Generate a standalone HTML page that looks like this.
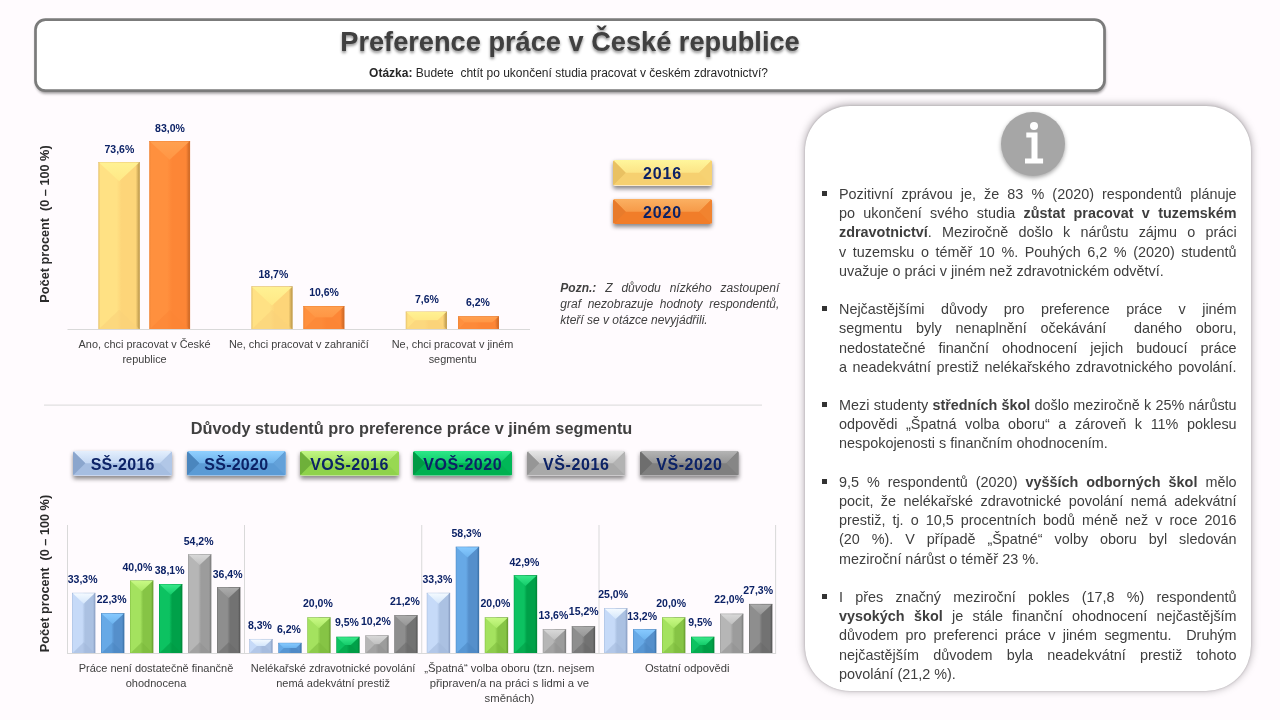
<!DOCTYPE html>
<html lang="cs"><head><meta charset="utf-8"><title>Preference práce v České republice</title>
<style>
html,body{margin:0;padding:0}
body{width:1280px;height:720px;position:relative;overflow:hidden;background:#fffbfe;font-family:"Liberation Sans", sans-serif;color:#404040}
.titlebox{position:absolute;left:34px;top:18px;width:1066px;height:67px;border:3px solid #7c7c7c;border-radius:11px;background:#fff;box-shadow:1px 2.5px 3px rgba(0,0,0,.38)}
.title{position:absolute;left:34px;top:22px;width:1072px;text-align:center;font-weight:bold;font-size:27.2px;line-height:40px;height:40px;color:#404040;text-shadow:0 1.5px 3px rgba(0,0,0,.45);white-space:nowrap}
.subtitle{position:absolute;left:34px;top:65.2px;width:1069px;text-align:center;font-size:12px;line-height:16px;color:#262626;white-space:pre}
.btn{position:absolute;border-radius:2.5px;overflow:hidden;box-shadow:0 2.5px 4px rgba(0,0,0,.45);text-align:center;}
.btn span{position:absolute;left:0;right:0;top:0;bottom:0;display:flex;align-items:center;justify-content:center;font-weight:bold;color:#0c2266;padding-top:1px}
.panel{position:absolute;left:805px;top:105.6px;width:446.3px;height:585.4px;border-radius:45px;background:#fff;box-shadow:0 -1px 9px rgba(10,5,10,.37),0 0 2px rgba(10,5,10,.18)}
.icon{position:absolute;left:1001px;top:111.5px;width:64px;height:64px;border-radius:50%;background:#a6a6a6;box-shadow:0 2px 4px rgba(0,0,0,.35)}
.body{position:absolute;left:839px;top:185.0px;width:397.6px;font-size:14.4px;line-height:19.2px;color:#3e3e3e}
.para{position:relative;margin-bottom:19.2px}
.ln{height:19.2px;text-align:justify;text-align-last:justify;white-space:nowrap;overflow:visible}
.ln.last{text-align:left;text-align-last:left}
.bul{position:absolute;left:-16.9px;top:6.0px;width:5px;height:5px;background:#333}
.note{position:absolute;left:560.3px;top:281.2px;width:219px;font-size:12px;line-height:15.75px;font-style:italic;color:#404040}
.nl{height:15.75px;text-align:justify;text-align-last:justify;white-space:nowrap}
.nl.last{text-align:left;text-align-last:left}
</style></head><body>
<svg width="1280" height="110" viewBox="0 0 1280 110" style="position:absolute;left:0;top:0"><defs><filter id="tsh" x="-2%" y="-20%" width="104%" height="150%"><feGaussianBlur stdDeviation="1.7"/></filter></defs><rect x="35.6" y="21.6" width="1070" height="72" rx="11" fill="#000" opacity=".42" filter="url(#tsh)"/><rect x="35.5" y="19.6" width="1069" height="71" rx="10" fill="#fff" stroke="#7b7b7b" stroke-width="2.7"/></svg>
<div class="title">Preference práce v České republice</div>
<div class="subtitle"><b>Otázka:</b> Budete  chtít po ukončení studia pracovat v českém zdravotnictví?</div>
<div class="panel"></div>
<svg width="1280" height="720" viewBox="0 0 1280 720" style="position:absolute;left:0;top:0" font-family='"Liberation Sans", sans-serif'><defs><linearGradient id="ty" x1="0" y1="0" x2="0" y2="1"><stop offset="0" stop-color="#fff193"/><stop offset="1" stop-color="#ffe886"/></linearGradient><linearGradient id="hy" x1="0" y1="0" x2="1" y2="0"><stop offset="0" stop-color="#e6c26b"/><stop offset=".05" stop-color="#ffe184"/><stop offset=".44" stop-color="#ffe184"/><stop offset=".56" stop-color="#fdd579"/><stop offset=".9" stop-color="#fdd579"/><stop offset=".97" stop-color="#c9a454"/><stop offset="1" stop-color="#c9a454"/></linearGradient><linearGradient id="to" x1="0" y1="0" x2="0" y2="1"><stop offset="0" stop-color="#ffa050"/><stop offset="1" stop-color="#ff9644"/></linearGradient><linearGradient id="ho" x1="0" y1="0" x2="1" y2="0"><stop offset="0" stop-color="#f08636"/><stop offset=".05" stop-color="#ff903e"/><stop offset=".44" stop-color="#ff903e"/><stop offset=".56" stop-color="#fd8636"/><stop offset=".9" stop-color="#fd8636"/><stop offset=".97" stop-color="#d56d28"/><stop offset="1" stop-color="#d56d28"/></linearGradient><linearGradient id="tb1" x1="0" y1="0" x2="0" y2="1"><stop offset="0" stop-color="#f4faff"/><stop offset="1" stop-color="#d4e6fb"/></linearGradient><linearGradient id="hb1" x1="0" y1="0" x2="1" y2="0"><stop offset="0" stop-color="#a9bedf"/><stop offset=".05" stop-color="#c6daf8"/><stop offset=".44" stop-color="#c6daf8"/><stop offset=".56" stop-color="#abc1e2"/><stop offset=".9" stop-color="#abc1e2"/><stop offset=".97" stop-color="#8fa4c8"/><stop offset="1" stop-color="#8fa4c8"/></linearGradient><linearGradient id="tb2" x1="0" y1="0" x2="0" y2="1"><stop offset="0" stop-color="#86c9ff"/><stop offset="1" stop-color="#6db3ee"/></linearGradient><linearGradient id="hb2" x1="0" y1="0" x2="1" y2="0"><stop offset="0" stop-color="#4f8cc8"/><stop offset=".05" stop-color="#67a9e6"/><stop offset=".44" stop-color="#67a9e6"/><stop offset=".56" stop-color="#558fcb"/><stop offset=".9" stop-color="#558fcb"/><stop offset=".97" stop-color="#3f76ad"/><stop offset="1" stop-color="#3f76ad"/></linearGradient><linearGradient id="tg1" x1="0" y1="0" x2="0" y2="1"><stop offset="0" stop-color="#c8f984"/><stop offset="1" stop-color="#abe866"/></linearGradient><linearGradient id="hg1" x1="0" y1="0" x2="1" y2="0"><stop offset="0" stop-color="#84c044"/><stop offset=".05" stop-color="#a4e25f"/><stop offset=".44" stop-color="#a4e25f"/><stop offset=".56" stop-color="#86c445"/><stop offset=".9" stop-color="#86c445"/><stop offset=".97" stop-color="#6ba232"/><stop offset="1" stop-color="#6ba232"/></linearGradient><linearGradient id="tg2" x1="0" y1="0" x2="0" y2="1"><stop offset="0" stop-color="#38e88a"/><stop offset="1" stop-color="#14cc6a"/></linearGradient><linearGradient id="hg2" x1="0" y1="0" x2="1" y2="0"><stop offset="0" stop-color="#00a44b"/><stop offset=".05" stop-color="#0cc261"/><stop offset=".44" stop-color="#0cc261"/><stop offset=".56" stop-color="#00a149"/><stop offset=".9" stop-color="#00a149"/><stop offset=".97" stop-color="#008a3a"/><stop offset="1" stop-color="#008a3a"/></linearGradient><linearGradient id="ts1" x1="0" y1="0" x2="0" y2="1"><stop offset="0" stop-color="#d8d8d8"/><stop offset="1" stop-color="#c0c0c0"/></linearGradient><linearGradient id="hs1" x1="0" y1="0" x2="1" y2="0"><stop offset="0" stop-color="#9a9a9a"/><stop offset=".05" stop-color="#b6b6b6"/><stop offset=".44" stop-color="#b6b6b6"/><stop offset=".56" stop-color="#9c9c9c"/><stop offset=".9" stop-color="#9c9c9c"/><stop offset=".97" stop-color="#808080"/><stop offset="1" stop-color="#808080"/></linearGradient><linearGradient id="ts2" x1="0" y1="0" x2="0" y2="1"><stop offset="0" stop-color="#acacac"/><stop offset="1" stop-color="#969696"/></linearGradient><linearGradient id="hs2" x1="0" y1="0" x2="1" y2="0"><stop offset="0" stop-color="#707070"/><stop offset=".05" stop-color="#8e8e8e"/><stop offset=".44" stop-color="#8e8e8e"/><stop offset=".56" stop-color="#727272"/><stop offset=".9" stop-color="#727272"/><stop offset=".97" stop-color="#5a5a5a"/><stop offset="1" stop-color="#5a5a5a"/></linearGradient></defs><rect x="67.5" y="329.0" width="462.5" height="1" fill="#d9d9d9"/><rect x="98.3" y="162.1" width="41.6" height="166.9" fill="url(#hy)"/><rect x="98.3" y="162.1" width="41.6" height=".6" fill="#c9a454" opacity=".55"/><polygon points="99,162.6 139.2,162.6 119.1,181.24 119.1,181.24" fill="url(#ty)"/><polygon points="99,329 139.2,329 119.1,309.86 119.1,309.86" fill="#f9d27a" opacity=".55"/><text x="119.4" y="153" font-size="10.5" font-weight="bold" fill="#0c2266" text-anchor="middle">73,6%</text><rect x="149.2" y="141" width="40.9" height="188" fill="url(#ho)"/><rect x="149.2" y="141" width="40.9" height=".6" fill="#d56d28" opacity=".55"/><polygon points="149.9,141.5 189.4,141.5 169.65,159.81 169.65,159.81" fill="url(#to)"/><polygon points="149.9,329 189.4,329 169.65,310.19 169.65,310.19" fill="#fb8534" opacity=".55"/><text x="169.95" y="131.8" font-size="10.5" font-weight="bold" fill="#0c2266" text-anchor="middle">83,0%</text><rect x="251.3" y="286.4" width="41.4" height="42.6" fill="url(#hy)"/><rect x="251.3" y="286.4" width="41.4" height=".6" fill="#c9a454" opacity=".55"/><polygon points="252,286.9 292,286.9 272,305.44 272,305.44" fill="url(#ty)"/><polygon points="252,329 292,329 272,309.96 272,309.96" fill="#f9d27a" opacity=".55"/><text x="273.4" y="278" font-size="10.5" font-weight="bold" fill="#0c2266" text-anchor="middle">18,7%</text><rect x="303.2" y="306" width="41.3" height="23" fill="url(#ho)"/><rect x="303.2" y="306" width="41.3" height=".6" fill="#d56d28" opacity=".55"/><rect x="315.7" y="317.5" width="16.3" height="0" fill="#ff903e"/><polygon points="303.9,306.5 343.8,306.5 332,317.5 315.7,317.5" fill="url(#to)"/><polygon points="303.9,329 343.8,329 332,317.5 315.7,317.5" fill="#fb8534" opacity=".55"/><text x="324.05" y="295.8" font-size="10.5" font-weight="bold" fill="#0c2266" text-anchor="middle">10,6%</text><rect x="405.7" y="311.6" width="41.3" height="17.4" fill="url(#hy)"/><rect x="405.7" y="311.6" width="41.3" height=".6" fill="#c9a454" opacity=".55"/><rect x="415.16" y="320.3" width="22.39" height="0" fill="#ffe184"/><polygon points="406.4,312.1 446.3,312.1 437.54,320.3 415.16,320.3" fill="url(#ty)"/><polygon points="406.4,329 446.3,329 437.54,320.3 415.16,320.3" fill="#f9d27a" opacity=".55"/><text x="426.95" y="303.3" font-size="10.5" font-weight="bold" fill="#0c2266" text-anchor="middle">7,6%</text><rect x="458" y="316.2" width="41" height="12.8" fill="url(#ho)"/><rect x="458" y="316.2" width="41" height=".6" fill="#d56d28" opacity=".55"/><rect x="464.96" y="322.6" width="27.09" height="0" fill="#ff903e"/><polygon points="458.7,316.7 498.3,316.7 492.04,322.6 464.96,322.6" fill="url(#to)"/><polygon points="458.7,329 498.3,329 492.04,322.6 464.96,322.6" fill="#fb8534" opacity=".55"/><text x="477.9" y="305.8" font-size="10.5" font-weight="bold" fill="#0c2266" text-anchor="middle">6,2%</text><text x="144.6" y="348" font-size="10.9" font-weight="normal" fill="#404040" text-anchor="middle">Ano, chci pracovat v České</text><text x="144.6" y="362.6" font-size="10.9" font-weight="normal" fill="#404040" text-anchor="middle">republice</text><text x="298.8" y="348" font-size="10.9" font-weight="normal" fill="#404040" text-anchor="middle">Ne, chci pracovat v zahraničí</text><text x="452.6" y="348" font-size="10.9" font-weight="normal" fill="#404040" text-anchor="middle">Ne, chci pracovat v jiném</text><text x="452.6" y="362.6" font-size="10.9" font-weight="normal" fill="#404040" text-anchor="middle">segmentu</text><text transform="translate(49 224) rotate(-90)" font-size="12.7" font-weight="bold" fill="#2b2b2b" text-anchor="middle" xml:space="preserve">Počet procent  (0 – 100 %)</text><rect x="44" y="404.6" width="718" height="1" fill="#d9d9d9"/><text x="411.5" y="433.7" font-size="16.3" font-weight="bold" fill="#404040" text-anchor="middle">Důvody studentů pro preference práce v jiném segmentu</text><rect x="67" y="525" width="1" height="129" fill="#d9d9d9"/><rect x="244" y="525" width="1" height="129" fill="#d9d9d9"/><rect x="421.25" y="525" width="1" height="129" fill="#d9d9d9"/><rect x="598.5" y="525" width="1" height="129" fill="#d9d9d9"/><rect x="775.1" y="525" width="1" height="129" fill="#d9d9d9"/><rect x="67.5" y="653.0" width="708.5" height="1" fill="#d9d9d9"/><rect x="72" y="592.86" width="23.4" height="60.14" fill="url(#hb1)"/><rect x="72" y="592.86" width="23.4" height=".6" fill="#8fa4c8" opacity=".55"/><polygon points="72.7,593.36 94.7,593.36 83.7,603.63 83.7,603.63" fill="url(#tb1)"/><polygon points="72.7,653 94.7,653 83.7,642.24 83.7,642.24" fill="#a3b8da" opacity=".55"/><text x="82.6" y="583.26" font-size="10.5" font-weight="bold" fill="#0c2266" text-anchor="middle">33,3%</text><rect x="101" y="613.16" width="23.4" height="39.84" fill="url(#hb2)"/><rect x="101" y="613.16" width="23.4" height=".6" fill="#3f76ad" opacity=".55"/><polygon points="101.7,613.66 123.7,613.66 112.7,623.92 112.7,623.92" fill="url(#tb2)"/><polygon points="101.7,653 123.7,653 112.7,642.24 112.7,642.24" fill="#4b87c2" opacity=".55"/><text x="111.6" y="602.56" font-size="10.5" font-weight="bold" fill="#0c2266" text-anchor="middle">22,3%</text><rect x="130" y="580.5" width="23.4" height="72.5" fill="url(#hg1)"/><rect x="130" y="580.5" width="23.4" height=".6" fill="#6ba232" opacity=".55"/><polygon points="130.7,581 152.7,581 141.7,591.26 141.7,591.26" fill="url(#tg1)"/><polygon points="130.7,653 152.7,653 141.7,642.24 141.7,642.24" fill="#7cba3d" opacity=".55"/><text x="137.4" y="570.9" font-size="10.5" font-weight="bold" fill="#0c2266" text-anchor="middle">40,0%</text><rect x="159" y="584.01" width="23.4" height="68.99" fill="url(#hg2)"/><rect x="159" y="584.01" width="23.4" height=".6" fill="#008a3a" opacity=".55"/><polygon points="159.7,584.51 181.7,584.51 170.7,594.77 170.7,594.77" fill="url(#tg2)"/><polygon points="159.7,653 181.7,653 170.7,642.24 170.7,642.24" fill="#009a43" opacity=".55"/><text x="169.6" y="574.41" font-size="10.5" font-weight="bold" fill="#0c2266" text-anchor="middle">38,1%</text><rect x="188" y="554.3" width="23.4" height="98.7" fill="url(#hs1)"/><rect x="188" y="554.3" width="23.4" height=".6" fill="#808080" opacity=".55"/><polygon points="188.7,554.8 210.7,554.8 199.7,565.06 199.7,565.06" fill="url(#ts1)"/><polygon points="188.7,653 210.7,653 199.7,642.24 199.7,642.24" fill="#929292" opacity=".55"/><text x="198.6" y="544.7" font-size="10.5" font-weight="bold" fill="#0c2266" text-anchor="middle">54,2%</text><rect x="217" y="587.14" width="23.4" height="65.86" fill="url(#hs2)"/><rect x="217" y="587.14" width="23.4" height=".6" fill="#5a5a5a" opacity=".55"/><polygon points="217.7,587.64 239.7,587.64 228.7,597.91 228.7,597.91" fill="url(#ts2)"/><polygon points="217.7,653 239.7,653 228.7,642.24 228.7,642.24" fill="#6a6a6a" opacity=".55"/><text x="227.6" y="577.54" font-size="10.5" font-weight="bold" fill="#0c2266" text-anchor="middle">36,4%</text><rect x="249.25" y="638.99" width="23.4" height="14.01" fill="url(#hb1)"/><rect x="249.25" y="638.99" width="23.4" height=".6" fill="#8fa4c8" opacity=".55"/><rect x="256.87" y="645.99" width="8.17" height="0" fill="#c6daf8"/><polygon points="249.95,639.49 271.95,639.49 265.03,645.99 256.87,645.99" fill="url(#tb1)"/><polygon points="249.95,653 271.95,653 265.03,645.99 256.87,645.99" fill="#a3b8da" opacity=".55"/><text x="259.85" y="629.39" font-size="10.5" font-weight="bold" fill="#0c2266" text-anchor="middle">8,3%</text><rect x="278.25" y="642.86" width="23.4" height="10.14" fill="url(#hb2)"/><rect x="278.25" y="642.86" width="23.4" height=".6" fill="#3f76ad" opacity=".55"/><rect x="283.76" y="647.93" width="12.38" height="0" fill="#67a9e6"/><polygon points="278.95,643.36 300.95,643.36 296.14,647.93 283.76,647.93" fill="url(#tb2)"/><polygon points="278.95,653 300.95,653 296.14,647.93 283.76,647.93" fill="#4b87c2" opacity=".55"/><text x="288.85" y="633.26" font-size="10.5" font-weight="bold" fill="#0c2266" text-anchor="middle">6,2%</text><rect x="307.25" y="617.4" width="23.4" height="35.6" fill="url(#hg1)"/><rect x="307.25" y="617.4" width="23.4" height=".6" fill="#6ba232" opacity=".55"/><polygon points="307.95,617.9 329.95,617.9 318.95,628.16 318.95,628.16" fill="url(#tg1)"/><polygon points="307.95,653 329.95,653 318.95,642.24 318.95,642.24" fill="#7cba3d" opacity=".55"/><text x="317.85" y="606.8" font-size="10.5" font-weight="bold" fill="#0c2266" text-anchor="middle">20,0%</text><rect x="336.25" y="636.77" width="23.4" height="16.23" fill="url(#hg2)"/><rect x="336.25" y="636.77" width="23.4" height=".6" fill="#008a3a" opacity=".55"/><rect x="345.07" y="644.89" width="5.76" height="0" fill="#0cc261"/><polygon points="336.95,637.27 358.95,637.27 350.83,644.89 345.07,644.89" fill="url(#tg2)"/><polygon points="336.95,653 358.95,653 350.83,644.89 345.07,644.89" fill="#009a43" opacity=".55"/><text x="346.85" y="626.17" font-size="10.5" font-weight="bold" fill="#0c2266" text-anchor="middle">9,5%</text><rect x="365.25" y="635.48" width="23.4" height="17.52" fill="url(#hs1)"/><rect x="365.25" y="635.48" width="23.4" height=".6" fill="#808080" opacity=".55"/><rect x="374.77" y="644.24" width="4.36" height="0" fill="#b6b6b6"/><polygon points="365.95,635.98 387.95,635.98 379.13,644.24 374.77,644.24" fill="url(#ts1)"/><polygon points="365.95,653 387.95,653 379.13,644.24 374.77,644.24" fill="#929292" opacity=".55"/><text x="375.85" y="624.88" font-size="10.5" font-weight="bold" fill="#0c2266" text-anchor="middle">10,2%</text><rect x="394.25" y="615.19" width="23.4" height="37.81" fill="url(#hs2)"/><rect x="394.25" y="615.19" width="23.4" height=".6" fill="#5a5a5a" opacity=".55"/><polygon points="394.95,615.69 416.95,615.69 405.95,625.95 405.95,625.95" fill="url(#ts2)"/><polygon points="394.95,653 416.95,653 405.95,642.24 405.95,642.24" fill="#6a6a6a" opacity=".55"/><text x="404.85" y="604.59" font-size="10.5" font-weight="bold" fill="#0c2266" text-anchor="middle">21,2%</text><rect x="426.75" y="592.86" width="23.4" height="60.14" fill="url(#hb1)"/><rect x="426.75" y="592.86" width="23.4" height=".6" fill="#8fa4c8" opacity=".55"/><polygon points="427.45,593.36 449.45,593.36 438.45,603.63 438.45,603.63" fill="url(#tb1)"/><polygon points="427.45,653 449.45,653 438.45,642.24 438.45,642.24" fill="#a3b8da" opacity=".55"/><text x="437.35" y="583.26" font-size="10.5" font-weight="bold" fill="#0c2266" text-anchor="middle">33,3%</text><rect x="455.75" y="546.74" width="23.4" height="106.26" fill="url(#hb2)"/><rect x="455.75" y="546.74" width="23.4" height=".6" fill="#3f76ad" opacity=".55"/><polygon points="456.45,547.24 478.45,547.24 467.45,557.5 467.45,557.5" fill="url(#tb2)"/><polygon points="456.45,653 478.45,653 467.45,642.24 467.45,642.24" fill="#4b87c2" opacity=".55"/><text x="466.35" y="537.14" font-size="10.5" font-weight="bold" fill="#0c2266" text-anchor="middle">58,3%</text><rect x="484.75" y="617.4" width="23.4" height="35.6" fill="url(#hg1)"/><rect x="484.75" y="617.4" width="23.4" height=".6" fill="#6ba232" opacity=".55"/><polygon points="485.45,617.9 507.45,617.9 496.45,628.16 496.45,628.16" fill="url(#tg1)"/><polygon points="485.45,653 507.45,653 496.45,642.24 496.45,642.24" fill="#7cba3d" opacity=".55"/><text x="495.35" y="606.8" font-size="10.5" font-weight="bold" fill="#0c2266" text-anchor="middle">20,0%</text><rect x="513.75" y="575.15" width="23.4" height="77.85" fill="url(#hg2)"/><rect x="513.75" y="575.15" width="23.4" height=".6" fill="#008a3a" opacity=".55"/><polygon points="514.45,575.65 536.45,575.65 525.45,585.91 525.45,585.91" fill="url(#tg2)"/><polygon points="514.45,653 536.45,653 525.45,642.24 525.45,642.24" fill="#009a43" opacity=".55"/><text x="524.35" y="565.55" font-size="10.5" font-weight="bold" fill="#0c2266" text-anchor="middle">42,9%</text><rect x="542.75" y="629.21" width="23.4" height="23.79" fill="url(#hs1)"/><rect x="542.75" y="629.21" width="23.4" height=".6" fill="#808080" opacity=".55"/><polygon points="543.45,629.71 565.45,629.71 554.45,639.97 554.45,639.97" fill="url(#ts1)"/><polygon points="543.45,653 565.45,653 554.45,642.24 554.45,642.24" fill="#929292" opacity=".55"/><text x="553.35" y="618.61" font-size="10.5" font-weight="bold" fill="#0c2266" text-anchor="middle">13,6%</text><rect x="571.75" y="626.26" width="23.4" height="26.74" fill="url(#hs2)"/><rect x="571.75" y="626.26" width="23.4" height=".6" fill="#5a5a5a" opacity=".55"/><polygon points="572.45,626.76 594.45,626.76 583.45,637.02 583.45,637.02" fill="url(#ts2)"/><polygon points="572.45,653 594.45,653 583.45,642.24 583.45,642.24" fill="#6a6a6a" opacity=".55"/><text x="583.75" y="615.06" font-size="10.5" font-weight="bold" fill="#0c2266" text-anchor="middle">15,2%</text><rect x="604" y="608.17" width="23.4" height="44.83" fill="url(#hb1)"/><rect x="604" y="608.17" width="23.4" height=".6" fill="#8fa4c8" opacity=".55"/><polygon points="604.7,608.67 626.7,608.67 615.7,618.94 615.7,618.94" fill="url(#tb1)"/><polygon points="604.7,653 626.7,653 615.7,642.24 615.7,642.24" fill="#a3b8da" opacity=".55"/><text x="613.1" y="597.57" font-size="10.5" font-weight="bold" fill="#0c2266" text-anchor="middle">25,0%</text><rect x="633" y="629.21" width="23.4" height="23.79" fill="url(#hb2)"/><rect x="633" y="629.21" width="23.4" height=".6" fill="#3f76ad" opacity=".55"/><polygon points="633.7,629.71 655.7,629.71 644.7,639.97 644.7,639.97" fill="url(#tb2)"/><polygon points="633.7,653 655.7,653 644.7,642.24 644.7,642.24" fill="#4b87c2" opacity=".55"/><text x="642.1" y="619.61" font-size="10.5" font-weight="bold" fill="#0c2266" text-anchor="middle">13,2%</text><rect x="662" y="617.4" width="23.4" height="35.6" fill="url(#hg1)"/><rect x="662" y="617.4" width="23.4" height=".6" fill="#6ba232" opacity=".55"/><polygon points="662.7,617.9 684.7,617.9 673.7,628.16 673.7,628.16" fill="url(#tg1)"/><polygon points="662.7,653 684.7,653 673.7,642.24 673.7,642.24" fill="#7cba3d" opacity=".55"/><text x="671.1" y="606.8" font-size="10.5" font-weight="bold" fill="#0c2266" text-anchor="middle">20,0%</text><rect x="691" y="636.77" width="23.4" height="16.23" fill="url(#hg2)"/><rect x="691" y="636.77" width="23.4" height=".6" fill="#008a3a" opacity=".55"/><rect x="699.82" y="644.89" width="5.76" height="0" fill="#0cc261"/><polygon points="691.7,637.27 713.7,637.27 705.58,644.89 699.82,644.89" fill="url(#tg2)"/><polygon points="691.7,653 713.7,653 705.58,644.89 699.82,644.89" fill="#009a43" opacity=".55"/><text x="700.1" y="626.17" font-size="10.5" font-weight="bold" fill="#0c2266" text-anchor="middle">9,5%</text><rect x="720" y="613.71" width="23.4" height="39.29" fill="url(#hs1)"/><rect x="720" y="613.71" width="23.4" height=".6" fill="#808080" opacity=".55"/><polygon points="720.7,614.21 742.7,614.21 731.7,624.47 731.7,624.47" fill="url(#ts1)"/><polygon points="720.7,653 742.7,653 731.7,642.24 731.7,642.24" fill="#929292" opacity=".55"/><text x="729.1" y="603.11" font-size="10.5" font-weight="bold" fill="#0c2266" text-anchor="middle">22,0%</text><rect x="749" y="603.93" width="23.4" height="49.07" fill="url(#hs2)"/><rect x="749" y="603.93" width="23.4" height=".6" fill="#5a5a5a" opacity=".55"/><polygon points="749.7,604.43 771.7,604.43 760.7,614.7 760.7,614.7" fill="url(#ts2)"/><polygon points="749.7,653 771.7,653 760.7,642.24 760.7,642.24" fill="#6a6a6a" opacity=".55"/><text x="758.1" y="593.93" font-size="10.5" font-weight="bold" fill="#0c2266" text-anchor="middle">27,3%</text><text x="156" y="671.7" font-size="11" font-weight="normal" fill="#404040" text-anchor="middle">Práce není dostatečně finančně</text><text x="156" y="686.7" font-size="11" font-weight="normal" fill="#404040" text-anchor="middle">ohodnocena</text><text x="333.1" y="671.7" font-size="11" font-weight="normal" fill="#404040" text-anchor="middle">Nelékařské zdravotnické povolání</text><text x="333.1" y="686.7" font-size="11" font-weight="normal" fill="#404040" text-anchor="middle">nemá adekvátní prestiž</text><text x="509.4" y="671.7" font-size="11.3" font-weight="normal" fill="#404040" text-anchor="middle">„Špatná“ volba oboru (tzn. nejsem</text><text x="509.4" y="686.7" font-size="11.3" font-weight="normal" fill="#404040" text-anchor="middle">připraven/a na práci s lidmi a ve</text><text x="509.4" y="701.7" font-size="11.3" font-weight="normal" fill="#404040" text-anchor="middle">směnách)</text><text x="687.2" y="671.7" font-size="11.2" font-weight="normal" fill="#404040" text-anchor="middle">Ostatní odpovědi</text><text transform="translate(48.8 573.5) rotate(-90)" font-size="12.7" font-weight="bold" fill="#2b2b2b" text-anchor="middle" xml:space="preserve">Počet procent  (0 – 100 %)</text><defs><filter id="sh" x="-20%" y="-20%" width="140%" height="150%"><feGaussianBlur stdDeviation="1.6"/></filter></defs></svg>
<div class="icon"></div><svg class="iconi" width="64" height="64" viewBox="0 0 64 64" style="position:absolute;left:1001px;top:111.5px"><circle cx="33" cy="14.1" r="4" fill="#fff"/><path d="M25.3 20.4H36.5V46.6H42.1V51.6H24V46.6H30.5V25.6H25.3Z" fill="#fff"/></svg>
<div class="btn" style="left:613px;top:160.2px;width:99px;height:25.4px;"><svg width="99" height="25.4" viewBox="0 0 99 25.4" style="position:absolute;left:0;top:0"><defs><linearGradient id="bg87000" x1="0" y1="0" x2="0" y2="1"><stop offset="0" stop-color="#fff69c"/><stop offset="1" stop-color="#fce486"/></linearGradient></defs><rect width="99" height="25.4" fill="#f6d070"/><polygon points="0,0 99,0 86.3,12.7 12.7,12.7" fill="url(#bg87000)"/><polygon points="0,0 12.7,12.7 0,25.4" fill="#e9c162"/><polygon points="99,0 86.3,12.7 99,25.4" fill="#f6d273"/></svg><span style="font-size:16px;letter-spacing:0.9px;padding-top:1.5px">2016</span></div><div class="btn" style="left:613px;top:199.1px;width:99px;height:25.4px;"><svg width="99" height="25.4" viewBox="0 0 99 25.4" style="position:absolute;left:0;top:0"><defs><linearGradient id="bg6372" x1="0" y1="0" x2="0" y2="1"><stop offset="0" stop-color="#fbb062"/><stop offset="1" stop-color="#f69a48"/></linearGradient></defs><rect width="99" height="25.4" fill="#f17d29"/><polygon points="0,0 99,0 86.3,12.7 12.7,12.7" fill="url(#bg6372)"/><polygon points="0,0 12.7,12.7 0,25.4" fill="#e87b2b"/><polygon points="99,0 86.3,12.7 99,25.4" fill="#f1832f"/></svg><span style="font-size:16px;letter-spacing:0.9px;padding-top:1.5px">2020</span></div><div class="btn" style="left:73px;top:451.3px;width:99.4px;height:24.6px;"><svg width="99.4" height="24.6" viewBox="0 0 99.4 24.6" style="position:absolute;left:0;top:0"><defs><linearGradient id="bg56359" x1="0" y1="0" x2="0" y2="1"><stop offset="0" stop-color="#e4effd"/><stop offset="1" stop-color="#c4d8f3"/></linearGradient></defs><rect width="99.4" height="24.6" fill="#a6bee1"/><polygon points="0,0 99.4,0 87.1,12.3 12.3,12.3" fill="url(#bg56359)"/><polygon points="0,0 12.3,12.3 0,24.6" fill="#8ba6cd"/><polygon points="99.4,0 87.1,12.3 99.4,24.6" fill="#b1c7e7"/></svg><span style="font-size:16px;letter-spacing:0.25px;padding-top:2.5px">SŠ-2016</span></div><div class="btn" style="left:187px;top:451.3px;width:98.6px;height:24.6px;"><svg width="98.6" height="24.6" viewBox="0 0 98.6 24.6" style="position:absolute;left:0;top:0"><defs><linearGradient id="bg84224" x1="0" y1="0" x2="0" y2="1"><stop offset="0" stop-color="#90d0ff"/><stop offset="1" stop-color="#6fb3eb"/></linearGradient></defs><rect width="98.6" height="24.6" fill="#5b9bd5"/><polygon points="0,0 98.6,0 86.3,12.3 12.3,12.3" fill="url(#bg84224)"/><polygon points="0,0 12.3,12.3 0,24.6" fill="#4a86be"/><polygon points="98.6,0 86.3,12.3 98.6,24.6" fill="#63a1d9"/></svg><span style="font-size:16px;letter-spacing:0.25px;padding-top:2.5px">SŠ-2020</span></div><div class="btn" style="left:300px;top:451.3px;width:99px;height:24.6px;"><svg width="99" height="24.6" viewBox="0 0 99 24.6" style="position:absolute;left:0;top:0"><defs><linearGradient id="bg15677" x1="0" y1="0" x2="0" y2="1"><stop offset="0" stop-color="#c2f684"/><stop offset="1" stop-color="#a0e05f"/></linearGradient></defs><rect width="99" height="24.6" fill="#8fd24b"/><polygon points="0,0 99,0 86.7,12.3 12.3,12.3" fill="url(#bg15677)"/><polygon points="0,0 12.3,12.3 0,24.6" fill="#6eb03a"/><polygon points="99,0 86.7,12.3 99,24.6" fill="#98d852"/></svg><span style="font-size:16px;letter-spacing:0.5px;padding-top:2.5px">VOŠ-2016</span></div><div class="btn" style="left:413px;top:451.3px;width:99.4px;height:24.6px;"><svg width="99.4" height="24.6" viewBox="0 0 99.4 24.6" style="position:absolute;left:0;top:0"><defs><linearGradient id="bg81833" x1="0" y1="0" x2="0" y2="1"><stop offset="0" stop-color="#2ce888"/><stop offset="1" stop-color="#0ecb69"/></linearGradient></defs><rect width="99.4" height="24.6" fill="#00b151"/><polygon points="0,0 99.4,0 87.1,12.3 12.3,12.3" fill="url(#bg81833)"/><polygon points="0,0 12.3,12.3 0,24.6" fill="#009a45"/><polygon points="99.4,0 87.1,12.3 99.4,24.6" fill="#00b757"/></svg><span style="font-size:16px;letter-spacing:0.5px;padding-top:2.5px">VOŠ-2020</span></div><div class="btn" style="left:527px;top:451.3px;width:98.4px;height:24.6px;"><svg width="98.4" height="24.6" viewBox="0 0 98.4 24.6" style="position:absolute;left:0;top:0"><defs><linearGradient id="bg36048" x1="0" y1="0" x2="0" y2="1"><stop offset="0" stop-color="#e6e6e6"/><stop offset="1" stop-color="#c4c4c4"/></linearGradient></defs><rect width="98.4" height="24.6" fill="#a9a9a9"/><polygon points="0,0 98.4,0 86.1,12.3 12.3,12.3" fill="url(#bg36048)"/><polygon points="0,0 12.3,12.3 0,24.6" fill="#969696"/><polygon points="98.4,0 86.1,12.3 98.4,24.6" fill="#b3b3b3"/></svg><span style="font-size:16px;letter-spacing:0.58px;padding-top:2.5px">VŠ-2016</span></div><div class="btn" style="left:640px;top:451.3px;width:98.6px;height:24.6px;"><svg width="98.6" height="24.6" viewBox="0 0 98.6 24.6" style="position:absolute;left:0;top:0"><defs><linearGradient id="bg63853" x1="0" y1="0" x2="0" y2="1"><stop offset="0" stop-color="#b4b4b4"/><stop offset="1" stop-color="#959595"/></linearGradient></defs><rect width="98.6" height="24.6" fill="#7f7f7f"/><polygon points="0,0 98.6,0 86.3,12.3 12.3,12.3" fill="url(#bg63853)"/><polygon points="0,0 12.3,12.3 0,24.6" fill="#6e6e6e"/><polygon points="98.6,0 86.3,12.3 98.6,24.6" fill="#868686"/></svg><span style="font-size:16px;letter-spacing:0.58px;padding-top:2.5px">VŠ-2020</span></div>
<div class="note"><div class="nl"><b>Pozn.:</b> Z důvodu nízkého zastoupení</div><div class="nl">graf nezobrazuje hodnoty respondentů,</div><div class="nl last">kteří se v otázce nevyjádřili.</div></div>
<div class="body"><div class="para"><i class="bul"></i><div class="ln">Pozitivní zprávou je, že 83 % (2020) respondentů plánuje</div><div class="ln">po ukončení svého studia <b>zůstat pracovat v tuzemském</b></div><div class="ln"><b>zdravotnictví</b>. Meziročně došlo k nárůstu zájmu o práci</div><div class="ln">v tuzemsku o téměř 10 %. Pouhých 6,2 % (2020) studentů</div><div class="ln last">uvažuje o práci v jiném než zdravotnickém odvětví.</div></div><div class="para"><i class="bul"></i><div class="ln">Nejčastějšími důvody pro preference práce v jiném</div><div class="ln">segmentu byly nenaplnění očekávání&nbsp; daného oboru,</div><div class="ln">nedostatečné finanční ohodnocení jejich budoucí práce</div><div class="ln">a neadekvátní prestiž nelékařského zdravotnického povolání.</div></div><div class="para"><i class="bul"></i><div class="ln">Mezi studenty <b>středních škol</b> došlo meziročně k 25% nárůstu</div><div class="ln">odpovědi „Špatná volba oboru“ a zároveň k 11% poklesu</div><div class="ln last">nespokojenosti s finančním ohodnocením.</div></div><div class="para"><i class="bul"></i><div class="ln">9,5 % respondentů (2020) <b>vyšších odborných škol</b> mělo</div><div class="ln">pocit, že nelékařské zdravotnické povolání nemá adekvátní</div><div class="ln">prestiž, tj. o 10,5 procentních bodů méně než v roce 2016</div><div class="ln">(20 %). V případě „Špatné“ volby oboru byl sledován</div><div class="ln last">meziroční nárůst o téměř 23 %.</div></div><div class="para"><i class="bul"></i><div class="ln">I přes značný meziroční pokles (17,8 %) respondentů</div><div class="ln"><b>vysokých škol</b> je stále finanční ohodnocení nejčastějším</div><div class="ln">důvodem pro preferenci práce v jiném segmentu.&nbsp; Druhým</div><div class="ln">nejčastějším důvodem byla neadekvátní prestiž tohoto</div><div class="ln last">povolání (21,2 %).</div></div></div>
</body></html>
